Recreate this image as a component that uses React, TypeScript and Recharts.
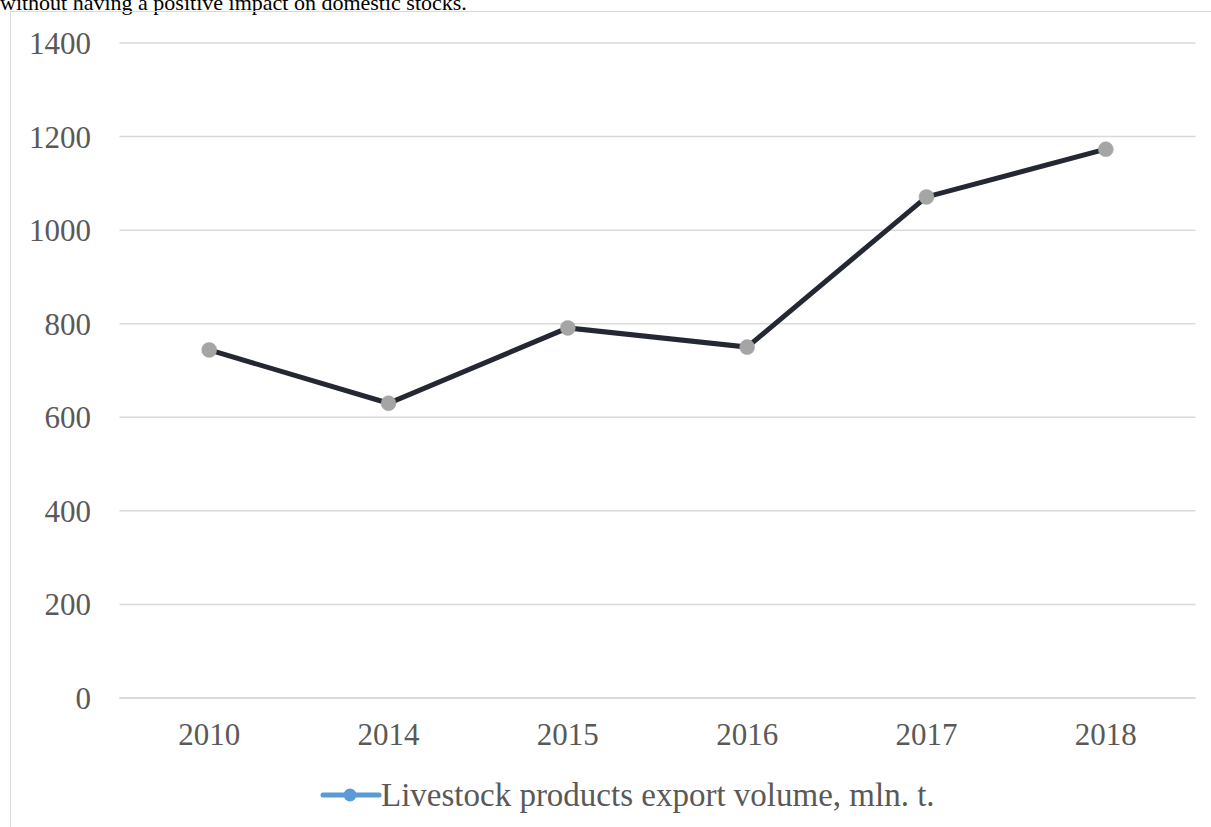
import { LineChart, Line, CartesianGrid, XAxis, YAxis } from "recharts";

const years = ["2010", "2014", "2015", "2016", "2017", "2018"];
const exportVolume = [744, 630, 791, 750, 1071, 1173];
const yTicks = [0, 200, 400, 600, 800, 1000, 1200, 1400];

const seriesName = "Livestock products export volume, mln. t.";

const data = years.map((year, i) => ({ year, value: exportVolume[i] }));

const serif = "'Liberation Serif', 'Times New Roman', serif";
const tickStyle = { fill: "#595959", fontSize: 31, fontFamily: serif };

export default function App() {
  return (
    <div
      style={{
        position: "absolute",
        left: 0,
        top: 0,
        width: 1211,
        height: 827,
        overflow: "hidden",
        background: "#fff",
      }}
    >
      {/* tail of the paragraph above the figure */}
      <div
        style={{
          position: "absolute",
          left: 0,
          top: -8,
          fontFamily: serif,
          fontSize: 22,
          lineHeight: "22px",
          color: "#000",
          whiteSpace: "nowrap",
        }}
      >
        without having a positive impact on domestic stocks.
      </div>

      <div
        style={{
          position: "absolute",
          left: 10,
          top: 11,
          width: 1220,
          height: 840,
          borderLeft: "1.5px solid #d9d9d9",
          borderTop: "1.5px solid #d9d9d9",
        }}
      />

      <div style={{ position: "absolute", left: 11, top: 12 }}>
        <LineChart
          width={1200}
          height={815}
          data={data}
          margin={{ top: 31, right: 15.5, bottom: 0, left: 0 }}
        >
          <CartesianGrid vertical={false} stroke="#d9d9d9" strokeWidth={1.5} />
          <XAxis
            dataKey="year"
            height={129}
            padding={{ left: 89.7, right: 89.7 }}
            axisLine={{ stroke: "#d9d9d9", strokeWidth: 1.5 }}
            tickLine={false}
            tickMargin={19}
            tick={tickStyle}
          />
          <YAxis
            width={108.5}
            domain={[0, 1400]}
            ticks={yTicks}
            axisLine={false}
            tickLine={false}
            tickMargin={22.5}
            tick={tickStyle}
          />
          <Line
            type="linear"
            dataKey="value"
            name={seriesName}
            stroke="#232833"
            strokeWidth={5}
            dot={{ r: 7.5, fill: "#a5a5a5", stroke: "#a5a5a5", strokeWidth: 0.5 }}
            isAnimationActive={false}
          />
        </LineChart>
      </div>

      {/* legend */}
      <svg
        style={{ position: "absolute", left: 318, top: 770 }}
        width={700}
        height={50}
      >
        <line x1={5} y1={25} x2={61} y2={25} stroke="#5b9bd5" strokeWidth={5} strokeLinecap="round" />
        <circle cx={32} cy={25} r={6.5} fill="#5b9bd5" />
        <text x={63} y={36} fill="#595959" fontSize={33} fontFamily={serif}>
          {seriesName}
        </text>
      </svg>
    </div>
  );
}
